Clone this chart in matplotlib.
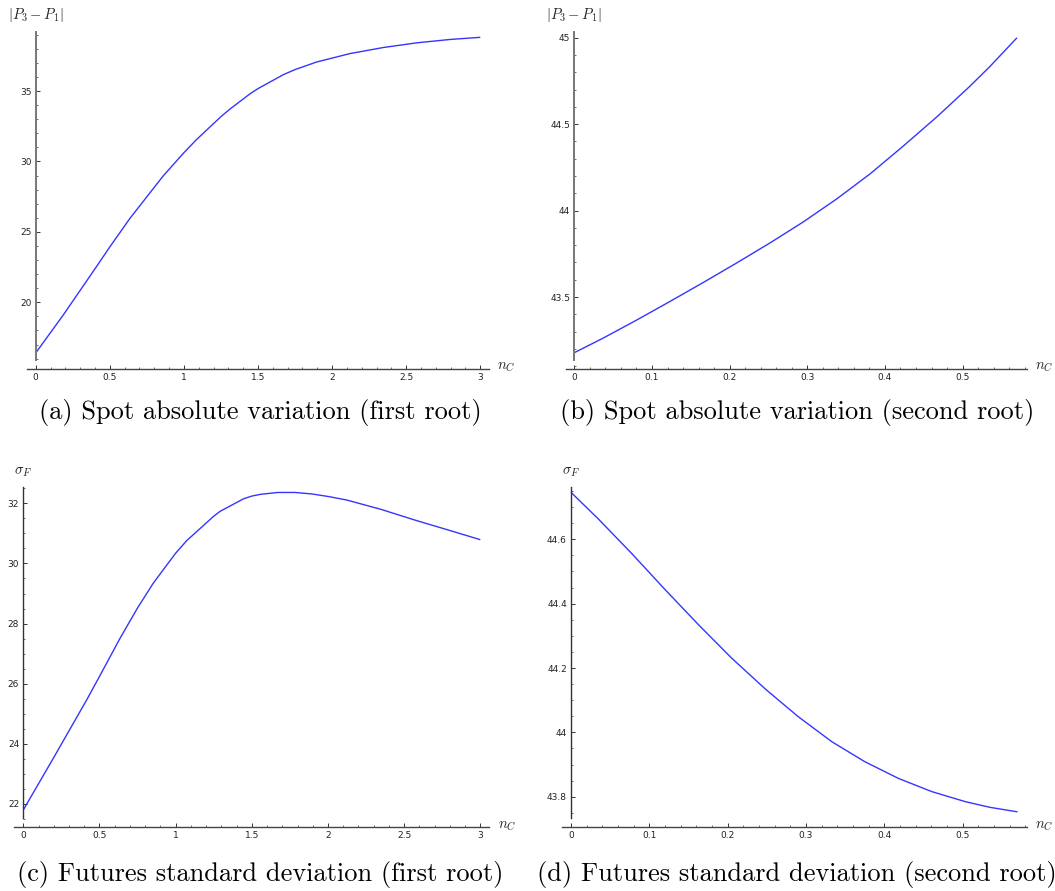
import matplotlib
matplotlib.use("Agg")
import matplotlib.pyplot as plt
from matplotlib.ticker import MultipleLocator, FuncFormatter

plt.rcParams['mathtext.fontset'] = 'cm'
plt.rcParams['font.family'] = ['DejaVu Sans']

# ---------------- data ----------------
a_x = [0.0, 0.186, 0.41, 0.5, 0.636, 0.861, 1.0, 1.086, 1.25, 1.311, 1.446, 1.5, 1.671, 1.75, 1.896, 2.122, 2.347, 2.572, 2.797, 3.0]
a_y = [16.40, 19.10, 22.53, 23.93, 25.96, 28.98, 30.62, 31.56, 33.18, 33.72, 34.80, 35.17, 36.16, 36.52, 37.06, 37.66, 38.09, 38.42, 38.66, 38.81]

b_x = [0.0, 0.037, 0.080, 0.123, 0.166, 0.209, 0.252, 0.295, 0.338, 0.381, 0.424, 0.467, 0.509, 0.535, 0.570]
b_y = [43.178, 43.262, 43.366, 43.474, 43.584, 43.697, 43.813, 43.935, 44.068, 44.213, 44.375, 44.543, 44.718, 44.833, 45.0]

c_x = [0.0, 0.197, 0.416, 0.5, 0.635, 0.75, 0.854, 1.0, 1.073, 1.25, 1.291, 1.446, 1.5, 1.559, 1.671, 1.784, 1.896, 2.009, 2.122, 2.347, 2.572, 2.797, 3.0]
c_y = [21.80, 23.52, 25.46, 26.24, 27.51, 28.52, 29.35, 30.34, 30.76, 31.57, 31.73, 32.15, 32.24, 32.30, 32.36, 32.36, 32.31, 32.22, 32.11, 31.80, 31.44, 31.10, 30.79]

d_x = [0.0, 0.035, 0.0775, 0.120, 0.163, 0.205, 0.248, 0.290, 0.333, 0.375, 0.418, 0.4605, 0.503, 0.535, 0.570]
d_y = [44.746, 44.663, 44.556, 44.444, 44.334, 44.231, 44.135, 44.049, 43.971, 43.909, 43.857, 43.816, 43.785, 43.767, 43.753]

y_labels = [r'$|P_3-P_1|$', r'$|P_3-P_1|$', r'$\sigma_F$', r'$\sigma_F$']
x_label = r'$n_C$'
captions = ['(a) Spot absolute variation (first root)',
            '(b) Spot absolute variation (second root)',
            '(c) Futures standard deviation (first root)',
            '(d) Futures standard deviation (second root)']

# ---------------- layout ----------------
W, H = 1055, 891
fig = plt.figure(figsize=(W / 100, H / 100), dpi=100)

panels = [
    dict(x=a_x, y=a_y, box=(26.7, 489.0, 31.7, 369.0), xlim=(-0.0607, 3.0587), ylim=(15.265, 39.21),
         sb=(15.904, 39.21), xt=(0.5, 0.1), yt=(5, 1), lab_off=12, spine_col='#777777', spine_lw=1.4,
         cap=(260, 412)),
    dict(x=b_x, y=b_y, box=(565.7, 1026.7, 31.7, 369.0), xlim=(-0.0111, 0.5825), ylim=(43.0836, 45.035),
         sb=(43.136, 45.035), xt=(0.1, 0.02), yt=(0.5, 0.1), lab_off=12, spine_col='#777777', spine_lw=1.4,
         cap=(797, 412)),
    dict(x=c_x, y=c_y, box=(14.3, 489.3, 486.7, 827.3), xlim=(-0.059, 3.059), ylim=(21.225, 32.552),
         sb=(21.524, 32.552), xt=(0.5, 0.1), yt=(2, 0.5), lab_off=11, spine_col='#333333', spine_lw=1.0,
         cap=(260, 874)),
    dict(x=d_x, y=d_y, box=(562.3, 1026.7, 486.7, 827.3), xlim=(-0.0111, 0.5818), ylim=(43.705, 44.7635),
         sb=(43.733, 44.7635), xt=(0.1, 0.02), yt=(0.2, 0.05), lab_off=11, spine_col='#333333', spine_lw=1.0,
         cap=(797, 874)),
]

fmt = FuncFormatter(lambda v, p: ('%g' % round(v, 6)))

for i, p in enumerate(panels):
    x0, x1, yt, yb = p['box']
    ax = fig.add_axes([x0 / W, 1 - yb / H, (x1 - x0) / W, (yb - yt) / H])
    ax.patch.set_visible(False)
    ax.plot(p['x'], p['y'], color='#3535ff', lw=1.0, solid_capstyle='butt', solid_joinstyle='round')
    ax.set_xlim(*p['xlim'])
    ax.set_ylim(*p['ylim'])
    for s in ('top', 'right'):
        ax.spines[s].set_visible(False)
    ax.spines['left'].set_position(('data', 0))
    ax.spines['left'].set_bounds(*p['sb'])
    ax.spines['left'].set_color(p['spine_col'])
    ax.spines['left'].set_linewidth(p['spine_lw'])
    ax.spines['bottom'].set_color('#444444')
    ax.spines['bottom'].set_linewidth(1.0)
    ax.xaxis.set_major_locator(MultipleLocator(p['xt'][0]))
    ax.xaxis.set_minor_locator(MultipleLocator(p['xt'][1]))
    ax.yaxis.set_major_locator(MultipleLocator(p['yt'][0]))
    ax.yaxis.set_minor_locator(MultipleLocator(p['yt'][1]))
    ax.xaxis.set_major_formatter(fmt)
    ax.yaxis.set_major_formatter(fmt)
    ax.tick_params(which='major', direction='in', length=3.2, width=0.7, color='#333333',
                   labelsize=6.5, labelcolor='#222222', pad=3)
    ax.tick_params(which='minor', direction='in', length=1.6, width=0.6, color='#555555')
    ax.annotate(y_labels[i], xy=(0, p['sb'][1]), xycoords='data', xytext=(0, p['lab_off']),
                textcoords='offset points', ha='center', va='center', fontsize=10.5, color='#222222')
    ax.annotate(x_label, xy=(1, 0), xycoords='axes fraction', xytext=(6, 1.5),
                textcoords='offset points', ha='left', va='center', fontsize=10.5, color='#222222')
    cx, cy = p['cap']
    fig.text(cx / W, 1 - cy / H, captions[i], family='cmr10', fontsize=19,
             ha='center', va='center', color='black')

fig.savefig('out.png', dpi=100)
